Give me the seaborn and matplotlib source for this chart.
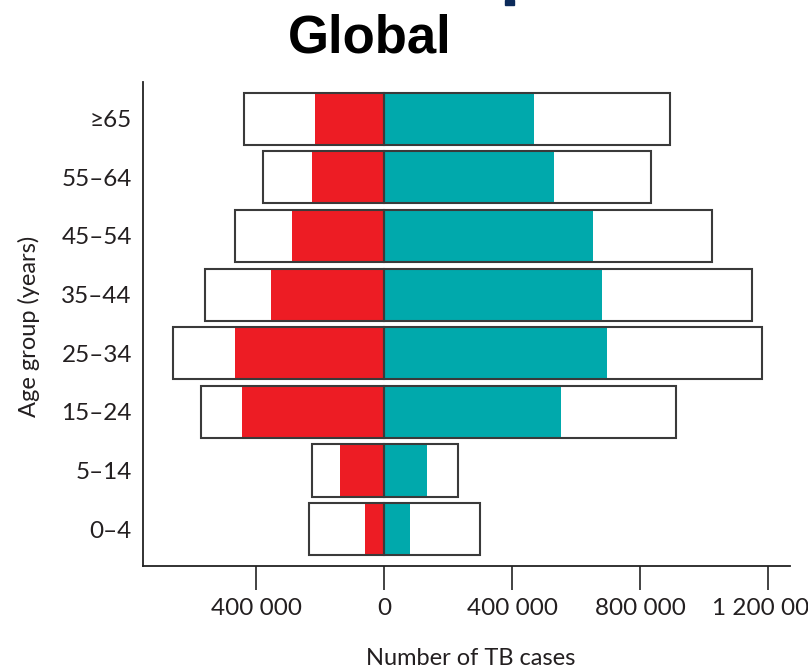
import matplotlib
matplotlib.use("Agg")
import matplotlib.pyplot as plt
import matplotlib.patches as mpatches
from matplotlib.ticker import FuncFormatter
import seaborn as sns
import pandas as pd

# age groups, top to bottom
age_groups = ['≥65', '55–64', '45–54', '35–44', '25–34', '15–24', '5–14', '0–4']
# notified cases (coloured) and estimated incidence (outer boxes)
female_notified = [215000, 225000, 288000, 353000, 466000, 444000, 137000, 59000]
female_estimated = [437000, 378000, 466000, 559000, 659000, 572000, 225000, 234000]
male_notified = [469000, 531000, 653000, 681000, 697000, 553000, 134000, 81000]
male_estimated = [894000, 834000, 1025000, 1150000, 1181000, 912000, 231000, 300000]

df = pd.DataFrame({
    'age': age_groups,
    'f_not': [-v for v in female_notified],
    'f_est': [-v for v in female_estimated],
    'm_not': male_notified,
    'm_est': male_estimated,
})

sns.set_style('white')
plt.rcParams['font.family'] = ['Lato', 'DejaVu Sans']

fig = plt.figure(figsize=(8.08, 6.7), dpi=100)
ax = fig.add_axes([0.177, 0.155, 0.801, 0.723])

red = '#ED1C24'
teal = '#00A9AC'
edge = '#3a3a3a'
txt = '#231f20'
w = 0.89

# white boxes behind
for col in ['f_est', 'm_est']:
    sns.barplot(data=df, x=col, y='age', orient='h', color='white', width=w,
                errorbar=None, edgecolor='none', ax=ax, zorder=1)
# coloured bars
sns.barplot(data=df, x='f_not', y='age', orient='h', color=red, width=w,
            errorbar=None, edgecolor='none', saturation=1, ax=ax, zorder=2)
sns.barplot(data=df, x='m_not', y='age', orient='h', color=teal, width=w,
            errorbar=None, edgecolor='none', saturation=1, ax=ax, zorder=2)
# box outlines on top (gives the line at zero too)
for col in ['f_est', 'm_est']:
    sns.barplot(data=df, x=col, y='age', orient='h', width=w, errorbar=None,
                facecolor='none', edgecolor=edge, linewidth=1.5, ax=ax, zorder=3)

ax.set_xlim(-753000, 1269000)
ax.set_ylim(7.63, -0.63)
ax.set_xticks([-400000, 0, 400000, 800000, 1200000])
ax.xaxis.set_major_formatter(FuncFormatter(lambda v, p: f'{abs(int(v)):,}'.replace(',', ' ')))
ax.tick_params(axis='x', direction='out', length=17, width=1.2, color='#222222',
               labelsize=17.5, pad=6, bottom=True)
ax.tick_params(axis='y', length=0, labelsize=17.5, pad=8)
for lab in ax.get_xticklabels() + ax.get_yticklabels():
    lab.set_color(txt)

sns.despine(ax=ax)
for s in ['left', 'bottom']:
    ax.spines[s].set_color('#222222')
    ax.spines[s].set_linewidth(1.3)

ax.set_xlabel('Number of TB cases', fontsize=17, color=txt, va='top')
ax.xaxis.set_label_coords(0.507, -0.168)
ax.set_ylabel('Age group (years)', fontsize=17, color=txt)
ax.yaxis.set_label_coords(-0.159, 0.494)

fig.text(0.458, 0.943, 'Global', ha='center', va='center', fontsize=38,
         fontweight='bold', color='black', family=['Liberation Sans', 'DejaVu Sans'])
# fragment of a letter cut off at the top edge
fig.patches.append(mpatches.Rectangle((505 / 808, 1 - 5 / 670), 9 / 808, 5 / 670,
                                      transform=fig.transFigure, color='#0b2a5a'))

fig.savefig('out.png', dpi=100)
